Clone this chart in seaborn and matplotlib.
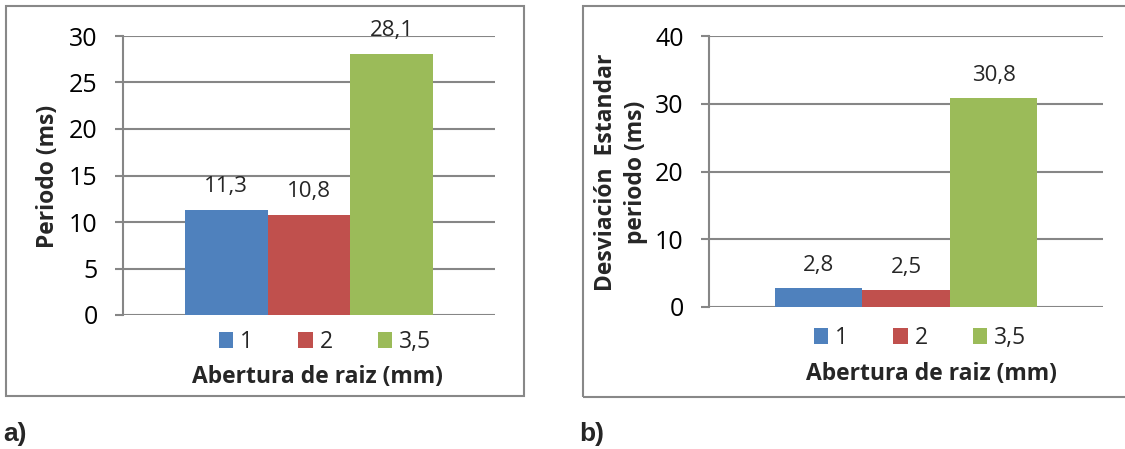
import matplotlib
matplotlib.use("Agg")
import matplotlib.pyplot as plt
from matplotlib.patches import Rectangle
import pandas as pd
import seaborn as sns

# Datos
aberturas = ["1", "2", "3,5"]
periodo = [11.3, 10.8, 28.1]
desviacion = [2.8, 2.5, 30.8]
colores = ["#4F81BD", "#C0504D", "#9BBB59"]
ticks_periodo = [0, 5, 10, 15, 20, 25, 30]
ticks_desviacion = [0, 10, 20, 30, 40]

sns.set_style("white")
plt.rcParams["font.family"] = ["Open Sans", "DejaVu Sans"]

GRIS = "#868686"
W, H = 1125, 449
fig = plt.figure(figsize=(W / 100, H / 100), dpi=100)


def fx(px):
    return px / W


def fy(py):
    return 1 - py / H


def coma(v):
    return f"{v:.1f}".replace(".", ",")


def panel(rect, valores, yticks, ylabel, ylabel_pos, legend_pos, xlabel_pos):
    ax = fig.add_axes(rect)
    df = pd.DataFrame({"grupo": [""] * len(aberturas),
                       "abertura": aberturas,
                       "valor": valores})
    sns.barplot(data=df, x="grupo", y="valor", hue="abertura",
                hue_order=aberturas, palette=colores, saturation=1,
                width=0.667, errorbar=None, linewidth=0, ax=ax)
    ax.set_xlim(-0.5, 0.5)
    ax.set_ylim(yticks[0], yticks[-1])
    ax.set_yticks(yticks)
    ax.set_xticks([])
    ax.set_axisbelow(True)
    ax.yaxis.grid(True, color=GRIS, linewidth=1.5)
    ax.xaxis.grid(False)
    for lado in ["top", "right", "bottom"]:
        ax.spines[lado].set_visible(False)
    ax.spines["left"].set_color(GRIS)
    ax.spines["left"].set_linewidth(1.5)
    ax.tick_params(axis="y", length=5.8, width=1.5, color=GRIS,
                   labelsize=18, pad=12.5, labelcolor="black", left=True)

    for cont in ax.containers:
        ax.bar_label(cont, fmt=coma, padding=9, fontsize=16)

    ax.set_xlabel("Abertura de raiz (mm)", fontsize=16.5, fontweight="bold")
    ax.xaxis.set_label_coords(fx(xlabel_pos[0]), fy(xlabel_pos[1]),
                              transform=fig.transFigure)
    ax.xaxis.label.set_va("center")
    ax.set_ylabel(ylabel, fontsize=16.5, fontweight="bold",
                  multialignment="center", linespacing=1.35)
    ax.yaxis.set_label_coords(fx(ylabel_pos[0]), fy(ylabel_pos[1]),
                              transform=fig.transFigure)
    ax.yaxis.label.set_va("center")

    sns.move_legend(ax, "center",
                    bbox_to_anchor=(fx(legend_pos[0]), fy(legend_pos[1])),
                    bbox_transform=fig.transFigure, ncol=3, frameon=False,
                    title=None, fontsize=16.5, handlelength=0.65,
                    handleheight=0.65, handletextpad=0.3,
                    columnspacing=1.95, borderpad=0)
    return ax


panel([fx(123), fy(315), fx(495) - fx(123), fy(36) - fy(315)],
      periodo, ticks_periodo, "Periodo (ms)",
      ylabel_pos=(48, 176), legend_pos=(325, 342), xlabel_pos=(317, 377))

panel([fx(709), fy(307), fx(1103) - fx(709), fy(36) - fy(307)],
      desviacion, ticks_desviacion, "Desviación  Estandar\nperiodo (ms)",
      ylabel_pos=(621, 172), legend_pos=(920, 338), xlabel_pos=(931, 374))

# Marcos de cada gráfico
fig.add_artist(Rectangle((fx(6), fy(396)), fx(524) - fx(6), fy(6) - fy(396),
                         fill=False, edgecolor="#888888", linewidth=1.5,
                         transform=fig.transFigure))
fig.add_artist(Rectangle((fx(583), fy(397)), fx(1140) - fx(583),
                         fy(6) - fy(397), fill=False, edgecolor="#888888",
                         linewidth=1.5, transform=fig.transFigure))

fig.text(fx(3), fy(434), "a)", fontsize=19, fontweight="bold",
         family=["Liberation Sans", "DejaVu Sans"], ha="left", va="center")
fig.text(fx(579), fy(434), "b)", fontsize=19, fontweight="bold",
         family=["Liberation Sans", "DejaVu Sans"], ha="left", va="center")

fig.savefig("out.png", dpi=100)
